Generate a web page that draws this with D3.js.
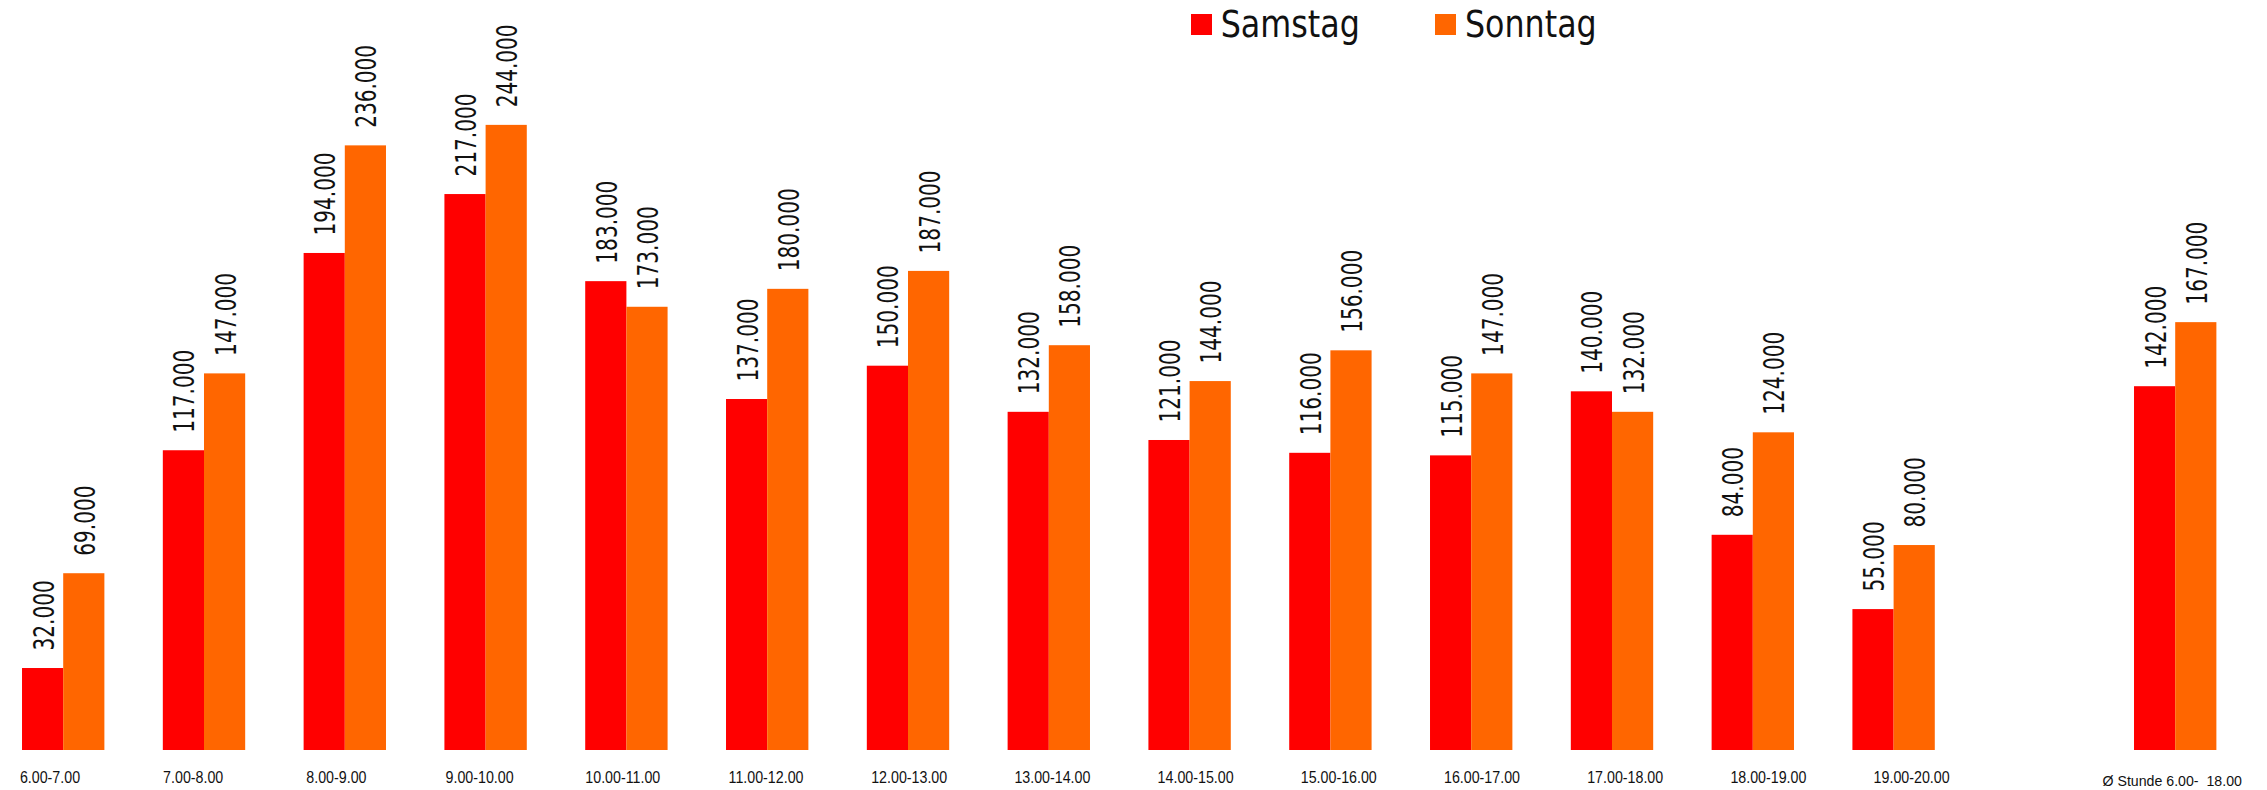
<!DOCTYPE html>
<html>
<head>
<meta charset="utf-8">
<script src="https://cdn.jsdelivr.net/npm/d3@7"></script>
<style>
  html, body { margin: 0; padding: 0; background: #fff; }
  svg { display: block; }
  text { white-space: pre; }
</style>
</head>
<body>
<svg id="chart" width="2267" height="790"></svg>
<script>
// ---- data ----
const hours = ["6.00-7.00","7.00-8.00","8.00-9.00","9.00-10.00","10.00-11.00","11.00-12.00","12.00-13.00","13.00-14.00","14.00-15.00","15.00-16.00","16.00-17.00","17.00-18.00","18.00-19.00","19.00-20.00"];
const avgLabel = "Ø Stunde 6.00-  18.00";
const seriesNames = ["Samstag", "Sonntag"];
const samstag = [32000,117000,194000,217000,183000,137000,150000,132000,121000,116000,115000,140000,84000,55000,142000];
const sonntag = [69000,147000,236000,244000,173000,180000,187000,158000,144000,156000,147000,132000,124000,80000,167000];
const colors = ["#FF0000", "#FF6600"];

const categories = hours.concat([avgLabel]);
const slotKeys = hours.concat(["__gap__", avgLabel]);

const svg = d3.select("#chart");
const W = 2267, H = 790;

// ---- scales ----
const x0 = d3.scaleBand().domain(slotKeys).range([-7.2, 2245.6])
  .paddingInner(0.415).paddingOuter(0.2075);
const x1 = d3.scaleBand().domain(seriesNames).range([0, x0.bandwidth()]);
const y = d3.scaleLinear().domain([0, 250000]).range([750, 109.5]);

const labelX = d3.scalePoint().domain(hours).range([50, 1911.6]);

const de = d3.formatLocale({decimal: ",", thousands: ".", grouping: [3], currency: ["", "€"]});
const fmt = de.format(",.0f");

const rows = categories.map((c, i) => ({cat: c, values: [
  {s: seriesNames[0], v: samstag[i]},
  {s: seriesNames[1], v: sonntag[i]}
]}));

// ---- bars ----
const g = svg.append("g");
const groups = g.selectAll("g.grp").data(rows).join("g")
  .attr("class", "grp")
  .attr("transform", d => `translate(${x0(d.cat)},0)`);

groups.selectAll("rect").data(d => d.values).join("rect")
  .attr("x", d => x1(d.s))
  .attr("y", d => y(d.v))
  .attr("width", x1.bandwidth())
  .attr("height", d => y(0) - y(d.v))
  .attr("fill", (d, i) => colors[i]);

// ---- value labels ----
groups.selectAll("text.val").data(d => d.values).join("text")
  .attr("class", "val")
  .attr("transform", d => `translate(${x1(d.s) + x1.bandwidth() / 2 + 11},${y(d.v) - 17.5}) rotate(-90)`)
  .attr("font-family", "DejaVu Sans")
  .attr("font-size", 27.5)
  .attr("fill", "#111")
  .text(d => fmt(d.v))
  .each(function() {
    const L = this.getComputedTextLength();
    d3.select(this).attr("textLength", L * 0.73).attr("lengthAdjust", "spacingAndGlyphs");
  });

// ---- category labels ----
svg.append("g").selectAll("text").data(hours).join("text")
  .attr("x", d => labelX(d))
  .attr("y", 783)
  .attr("text-anchor", "middle")
  .attr("font-family", "Liberation Sans")
  .attr("font-size", 16)
  .attr("fill", "#111")
  .text(d => d)
  .each(function() {
    const L = this.getComputedTextLength();
    d3.select(this).attr("textLength", L * 0.89).attr("lengthAdjust", "spacingAndGlyphs");
  });

svg.append("text")
  .attr("x", x0(avgLabel) + x0.bandwidth() / 2 - 3)
  .attr("y", 786)
  .attr("text-anchor", "middle")
  .attr("font-family", "Liberation Sans")
  .attr("font-size", 15)
  .attr("fill", "#111")
  .text(avgLabel)
  .each(function() {
    const L = this.getComputedTextLength();
    d3.select(this).attr("textLength", 139.4).attr("lengthAdjust", "spacingAndGlyphs");
  });

// ---- legend ----
const legendPos = [{sx: 1191, tx: 1220.7, w: 139.3}, {sx: 1435, tx: 1465, w: 131.7}];
const leg = svg.append("g").selectAll("g").data(seriesNames).join("g");
leg.append("rect")
  .attr("x", (d, i) => legendPos[i].sx)
  .attr("y", 14)
  .attr("width", 21)
  .attr("height", 21)
  .attr("fill", (d, i) => colors[i]);
leg.append("text")
  .attr("x", (d, i) => legendPos[i].tx)
  .attr("y", 36.7)
  .attr("font-family", "DejaVu Sans")
  .attr("font-size", 36.6)
  .attr("fill", "#111")
  .attr("textLength", (d, i) => legendPos[i].w)
  .attr("lengthAdjust", "spacingAndGlyphs")
  .text(d => d);
</script>
</body>
</html>
